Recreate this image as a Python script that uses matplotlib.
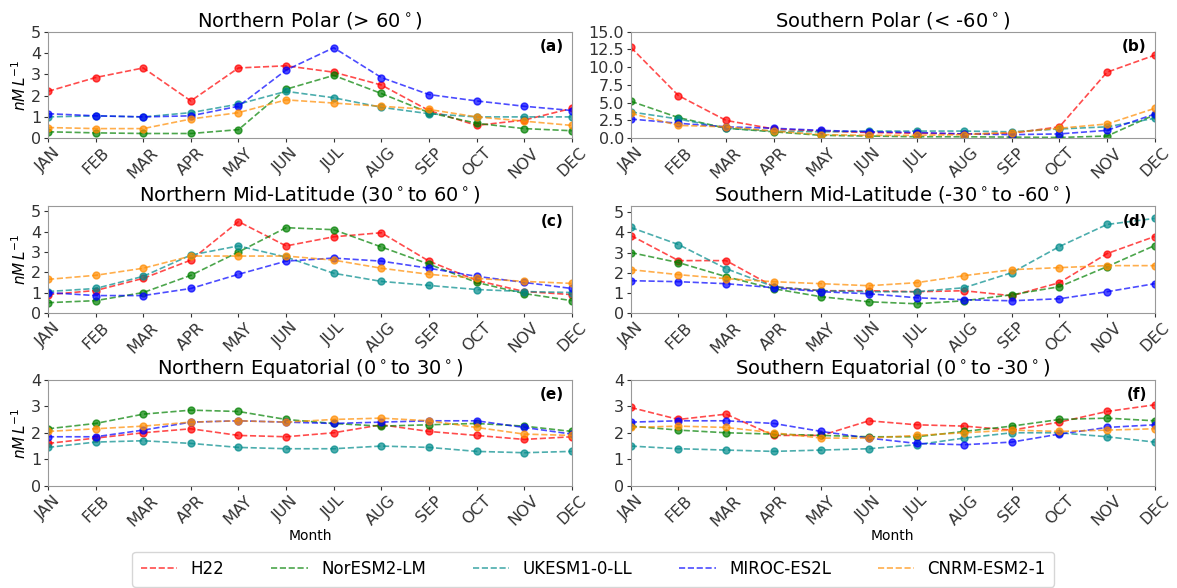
import matplotlib
matplotlib.use("Agg")
import matplotlib.pyplot as plt
from matplotlib.lines import Line2D
from matplotlib.ticker import MultipleLocator

months = ["JAN", "FEB", "MAR", "APR", "MAY", "JUN",
          "JUL", "AUG", "SEP", "OCT", "NOV", "DEC"]
models = ["H22", "NorESM2-LM", "UKESM1-0-LL", "MIROC-ES2L", "CNRM-ESM2-1"]
colors = ["red", "green", "darkcyan", "blue", "darkorange"]

# (a) Northern Polar
n_polar = {
    "H22": [2.2, 2.85, 3.3, 1.75, 3.3, 3.4, 3.1, 2.5, 1.3, 0.6, 0.85, 1.4],
    "NorESM2-LM": [0.3, 0.25, 0.22, 0.22, 0.4, 2.3, 2.95, 2.1, 1.2, 0.7, 0.45, 0.35],
    "UKESM1-0-LL": [1.0, 1.05, 1.0, 1.2, 1.6, 2.2, 1.9, 1.45, 1.15, 1.0, 1.0, 1.0],
    "MIROC-ES2L": [1.15, 1.05, 1.0, 1.05, 1.5, 3.2, 4.25, 2.85, 2.05, 1.75, 1.5, 1.3],
    "CNRM-ESM2-1": [0.5, 0.45, 0.45, 0.9, 1.2, 1.8, 1.65, 1.5, 1.35, 1.0, 0.8, 0.6],
}
# (b) Southern Polar
s_polar = {
    "H22": [12.8, 6.0, 2.5, 1.3, 1.0, 0.8, 0.7, 0.6, 0.7, 1.6, 9.3, 11.7],
    "NorESM2-LM": [5.2, 2.9, 1.4, 0.9, 0.4, 0.3, 0.2, 0.2, 0.15, 0.1, 0.3, 3.3],
    "UKESM1-0-LL": [3.7, 2.7, 1.4, 1.0, 0.9, 1.0, 1.0, 1.0, 0.9, 1.3, 1.6, 2.8],
    "MIROC-ES2L": [2.7, 2.1, 1.6, 1.4, 1.1, 0.9, 0.8, 0.6, 0.5, 0.6, 1.1, 3.4],
    "CNRM-ESM2-1": [3.5, 1.8, 1.6, 1.0, 0.5, 0.4, 0.4, 0.5, 0.8, 1.4, 2.0, 4.2],
}
# (c) Northern Mid-Latitude
n_mid = {
    "H22": [0.9, 1.1, 1.7, 2.6, 4.5, 3.3, 3.75, 3.95, 2.55, 1.6, 1.05, 0.9],
    "NorESM2-LM": [0.5, 0.6, 1.0, 1.85, 3.0, 4.2, 4.1, 3.25, 2.4, 1.5, 0.95, 0.6],
    "UKESM1-0-LL": [1.05, 1.2, 1.8, 2.85, 3.3, 2.75, 1.95, 1.55, 1.35, 1.15, 1.05, 1.0],
    "MIROC-ES2L": [1.0, 0.85, 0.85, 1.2, 1.9, 2.55, 2.7, 2.55, 2.2, 1.8, 1.5, 1.2],
    "CNRM-ESM2-1": [1.65, 1.85, 2.2, 2.8, 2.8, 2.8, 2.6, 2.2, 1.9, 1.7, 1.55, 1.45],
}
# (d) Southern Mid-Latitude
s_mid = {
    "H22": [3.85, 2.6, 2.6, 1.3, 1.1, 1.1, 1.05, 1.1, 0.85, 1.5, 2.95, 3.8],
    "NorESM2-LM": [3.0, 2.5, 1.8, 1.2, 0.8, 0.55, 0.45, 0.6, 0.9, 1.3, 2.3, 3.35],
    "UKESM1-0-LL": [4.25, 3.4, 2.2, 1.3, 1.1, 1.05, 1.05, 1.25, 2.0, 3.3, 4.4, 4.7],
    "MIROC-ES2L": [1.6, 1.55, 1.45, 1.25, 1.05, 0.95, 0.75, 0.65, 0.6, 0.7, 1.05, 1.45],
    "CNRM-ESM2-1": [2.15, 1.9, 1.7, 1.55, 1.45, 1.35, 1.5, 1.85, 2.15, 2.25, 2.35, 2.35],
}
# (e) Northern Equatorial
n_eq = {
    "H22": [1.6, 1.8, 2.0, 2.15, 1.9, 1.85, 2.0, 2.3, 2.05, 1.9, 1.75, 1.85],
    "NorESM2-LM": [2.15, 2.35, 2.7, 2.85, 2.8, 2.5, 2.35, 2.25, 2.3, 2.35, 2.25, 2.05],
    "UKESM1-0-LL": [1.45, 1.65, 1.7, 1.6, 1.45, 1.4, 1.4, 1.5, 1.45, 1.3, 1.25, 1.3],
    "MIROC-ES2L": [1.85, 1.85, 2.1, 2.4, 2.45, 2.4, 2.35, 2.4, 2.45, 2.45, 2.2, 1.95],
    "CNRM-ESM2-1": [2.05, 2.15, 2.25, 2.4, 2.45, 2.4, 2.5, 2.55, 2.45, 2.2, 1.95, 1.9],
}
# (f) Southern Equatorial
s_eq = {
    "H22": [2.95, 2.5, 2.7, 1.9, 1.9, 2.45, 2.3, 2.25, 2.1, 2.4, 2.8, 3.05],
    "NorESM2-LM": [2.25, 2.1, 2.0, 1.95, 1.9, 1.85, 1.85, 2.05, 2.25, 2.5, 2.55, 2.45],
    "UKESM1-0-LL": [1.5, 1.4, 1.35, 1.3, 1.35, 1.4, 1.55, 1.8, 2.0, 2.0, 1.85, 1.65],
    "MIROC-ES2L": [2.4, 2.45, 2.45, 2.35, 2.05, 1.8, 1.6, 1.55, 1.65, 1.95, 2.2, 2.3],
    "CNRM-ESM2-1": [2.2, 2.25, 2.2, 2.0, 1.8, 1.8, 1.9, 2.0, 2.1, 2.05, 2.1, 2.15],
}

panels = [
    (n_polar, "Northern Polar (> 60$^\\circ$)", "(a)", (0, 5), 1),
    (s_polar, "Southern Polar (< -60$^\\circ$)", "(b)", (0, 15), 2.5),
    (n_mid, "Northern Mid-Latitude (30$^\\circ$to 60$^\\circ$)", "(c)", (0, 5.25), 1),
    (s_mid, "Southern Mid-Latitude (-30$^\\circ$to -60$^\\circ$)", "(d)", (0, 5.3), 1),
    (n_eq, "Northern Equatorial (0$^\\circ$to 30$^\\circ$)", "(e)", (0, 4), 1),
    (s_eq, "Southern Equatorial (0$^\\circ$to -30$^\\circ$)", "(f)", (0, 4), 1),
]

# axes positions in figure fractions [left, bottom, width, height]
lefts = [0.0408, 0.536]
bottoms = [0.765, 0.468, 0.1735]
w, h = 0.445, 0.181

fig = plt.figure(figsize=(11.77, 5.88), dpi=100)

for i, (data, title, tag, ylim, step) in enumerate(panels):
    row, col = i // 2, i % 2
    ax = fig.add_axes([lefts[col], bottoms[row], w, h])
    x = range(len(months))
    for name, c in zip(models, colors):
        ax.plot(x, data[name], "--o", color=c, alpha=0.7, lw=1.2, ms=5)
    ax.set_xlim(0, 11)
    ax.set_ylim(*ylim)
    ax.yaxis.set_major_locator(MultipleLocator(step))
    ax.set_xticks(list(x))
    ax.set_xticklabels(months, rotation=45)
    ax.set_title(title, fontsize=14, pad=4)
    ax.text(0.985, 0.93, tag, transform=ax.transAxes, ha="right", va="top",
            fontsize=11, fontweight="bold")
    ax.tick_params(labelsize=11.5, colors="#333333", length=3, pad=2)
    for s in ax.spines.values():
        s.set_color("#999999")
    if col == 0:
        ax.set_ylabel("$nM\\,L^{-1}$", fontsize=11, labelpad=1)
    if row == 2:
        ax.set_xlabel("Month", fontsize=10, labelpad=0)

handles = [Line2D([], [], color=c, ls="--", lw=1.2, alpha=0.7) for c in colors]
fig.legend(handles, models, loc="center", bbox_to_anchor=(0.504, 0.032),
           ncol=5, fontsize=12, frameon=True, columnspacing=2.8,
           handlelength=2.2, borderpad=0.5)

fig.savefig("out.png", dpi=100)
